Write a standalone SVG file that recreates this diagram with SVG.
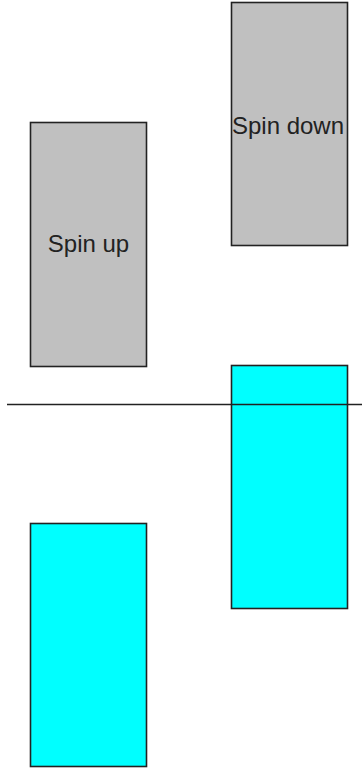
<svg xmlns="http://www.w3.org/2000/svg" width="362" height="771" viewBox="0 0 362 771">
<style>
.box{stroke:#222;stroke-width:1.6}
.gray{fill:#c0c0c0}
.cyan{fill:#00ffff}
.lbl{font-family:"Liberation Sans",Arial,sans-serif;font-size:24px;fill:#222;text-anchor:middle}
</style>
<rect width="362" height="771" fill="#fff"/>
<g id="spin-up"><rect class="box gray" x="30.5" y="122.5" width="116" height="244"/><text class="lbl" x="88.5" y="252">Spin up</text></g>
<g id="spin-down"><rect class="box gray" x="231.5" y="2.5" width="116" height="243"/><text class="lbl" x="288" y="134">Spin down</text></g>
<g id="cyan-right"><rect class="box cyan" x="231.5" y="365.5" width="116" height="243"/></g>
<g id="cyan-left"><rect class="box cyan" x="30.5" y="523.5" width="116" height="243"/></g>
<g id="connectors"><line x1="7" y1="404.5" x2="362" y2="404.5" stroke="#222" stroke-width="1.6"/></g>
</svg>
